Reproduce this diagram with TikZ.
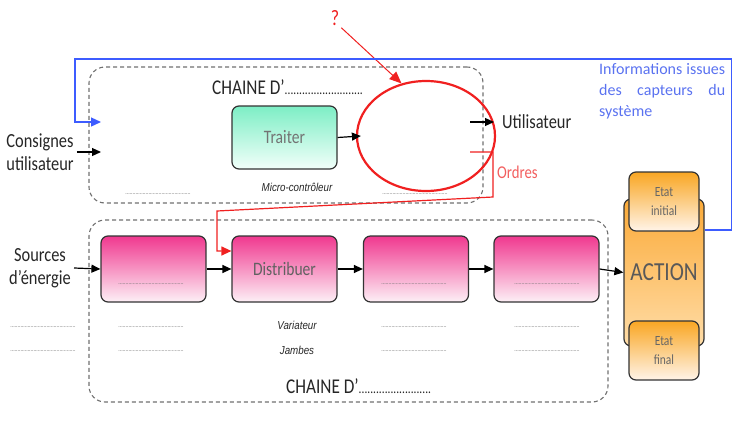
\documentclass[tikz,border=0pt]{standalone}
\usepackage{fontspec}
\setmainfont{Carlito}[FakeStretch=0.82]
\newfontfamily\itfont{Liberation Sans}[FakeStretch=0.85]
\newfontfamily\bluefont{Carlito}
\usetikzlibrary{arrows.meta,shapes.geometric,calc}
\definecolor{pinktop}{HTML}{F0388F}
\definecolor{pinkbot}{HTML}{FDF0F6}
\definecolor{minttop}{HTML}{7DEEC5}
\definecolor{mintbot}{HTML}{F2FFFA}
\definecolor{oratop}{HTML}{F9A623}
\definecolor{orabot}{HTML}{FFF4E8}
\definecolor{acttop}{HTML}{FBAA38}
\definecolor{actbot}{HTML}{FFDDA8}
\definecolor{blueline}{HTML}{3D5CFF}
\definecolor{bluetext}{HTML}{5A72F0}
\definecolor{redline}{HTML}{F02020}
\definecolor{salmon}{HTML}{F25E5E}
\definecolor{dashgray}{HTML}{707070}
\newcommand\blankdots{\textcolor{black!55}{\fontsize{7}{8}\selectfont .............................................}}
\begin{document}
\begin{tikzpicture}[x=1pt,y=-1pt,
  dashbox/.style={draw=dashgray, dash pattern=on 4pt off 3pt, line width=1.1pt, rounded corners=16pt, inner sep=0pt},
  arr/.style={-{Triangle[length=9pt,width=8pt]}, line width=1.2pt},
  boxbase/.style={draw=black!80, line width=1.2pt, rounded corners=7pt, inner sep=0pt, align=center},
  pinkbox/.style={boxbase, top color=pinktop, bottom color=pinkbot, minimum width=105pt, minimum height=66pt, text=black!62, font=\fontsize{19}{22}\selectfont},
  mintbox/.style={boxbase, top color=minttop, bottom color=mintbot, minimum width=105pt, minimum height=63pt, text=black!55, font=\fontsize{19}{22}\selectfont},
  etatbox/.style={boxbase, top color=oratop, bottom color=orabot, minimum width=70pt, minimum height=59pt, text=black!60, font=\fontsize{14}{19}\selectfont},
  lbl/.style={font=\fontsize{20}{23}\selectfont, text=black!85, align=center, inner sep=0pt},
  itl/.style={font=\itfont\itshape\fontsize{11.5}{12}\selectfont, text=black!85, inner sep=0pt},
  dotl/.style={inner sep=0pt}
]
\useasboundingbox (0,0) rectangle (748,421);

% dashed chains
\node[dashbox, minimum width=394pt, minimum height=136pt] (chinfo) at (286,135) {};
\node[dashbox, minimum width=519pt, minimum height=182pt] (chener) at (348.5,311) {};

% chain labels
\node[anchor=west, inner sep=0pt, font=\fontsize{21}{24}\selectfont, text=black!85] (tinfo) at (212,87) {CHAINE D'{\fontsize{14}{16}\selectfont ...........................}};
\node[anchor=west, inner sep=0pt, font=\fontsize{21}{24}\selectfont, text=black!85] (tener) at (286,386) {CHAINE D'{\fontsize{14}{16}\selectfont .........................}};

% boxes
\node[mintbox] (traiter) at (284.5,137.5) {Traiter};
\node[pinkbox] (p1) at (153.5,269) {};
\node[pinkbox] (dist) at (284.5,269) {Distribuer};
\node[pinkbox] (p3) at (416,269) {};
\node[pinkbox] (p4) at (546.5,269) {};
\node[boxbase, top color=acttop, bottom color=actbot, minimum width=80pt, minimum height=147pt, text=black!65, font=\fontsize{26}{28}\selectfont] (action) at (664,272.5) {ACTION};
\node[etatbox] (einit) at (664,201.5) {Etat\\initial};
\node[etatbox] (efin) at (664,350.5) {Etat\\final};

% side labels
\node[lbl] (consignes) at (40,152) {Consignes\\utilisateur};
\node[lbl] (sources) at (40,268) {Sources\\d'énergie};
\node[lbl, anchor=west] (util) at (502,122) {Utilisateur};
\node[lbl, anchor=west, text=salmon, font=\fontsize{18}{20}\selectfont] (ordres) at (497,172) {Ordres};
\node[anchor=north west, inner sep=0pt, text width=126pt, align=left, text=bluetext, font=\bluefont\fontsize{16}{21}\selectfont] (infos) at (599,63) {Informations\hfill issues\\des\hfill capteurs\hfill du\\système};

% italic labels
\node[itl] (micro) at (297,187) {Micro-contrôleur};
\node[itl] (variateur) at (297,325) {Variateur};
\node[itl] (jambes) at (297,350) {Jambes};

% dotted blanks
\node[dotl] (d1) at (158,194) {\blankdots};
\node[dotl] (d2) at (415,194) {\blankdots};
\node[dotl] (d3) at (151,284) {\blankdots};
\node[dotl] (d4) at (414,284) {\blankdots};
\node[dotl] (d5) at (547,284) {\blankdots};
\node[dotl] (d6) at (43,327) {\blankdots};
\node[dotl] (d7) at (151,327) {\blankdots};
\node[dotl] (d8) at (414,327) {\blankdots};
\node[dotl] (d9) at (547,327) {\blankdots};
\node[dotl] (d10) at (43,351) {\blankdots};
\node[dotl] (d11) at (151,351) {\blankdots};
\node[dotl] (d12) at (414,351) {\blankdots};
\node[dotl] (d13) at (547,351) {\blankdots};

% red ellipse and question mark
\node[draw=redline, line width=2.2pt, ellipse, minimum width=138pt, minimum height=110pt, inner sep=0pt] (ell) at (426,136) {};
\node[text=redline, font=\fontsize{22}{24}\selectfont, inner sep=0pt] (q) at (335,18) {?};
\draw[draw=redline, line width=1pt, -{Triangle[length=12pt,width=10pt]}] (q.south east) ++(2,2) -- (ell.115);

% coordinates for free ends
\coordinate (cin) at (101,152);
\coordinate (fbin) at (101,122);
\coordinate (uin) at (470,122);
\coordinate (oin) at (470,152);

% black connectors
\draw[arr] (consignes.east) ++(3,0) -- (cin);
\draw[arr] (sources.east) ++(3,0) -- (p1.west);
\draw[arr] (p1.east) -- (dist.west);
\draw[arr] (dist.east) -- (p3.west);
\draw[arr] (p3.east) -- (p4.west);
\draw[arr] (p4.east) -- (action.west);
\draw[arr] (traiter.east) -- ($(ell.west)+(5,0)$);
\draw[arr] (uin) -- ($(util.west)+(-8,0)$);

% blue feedback
\draw[draw=blueline, line width=1.3pt, -{Triangle[length=10pt,width=9pt]}] ($(action.east)+(0,-42.5)$) -- ++(27,0) |- (75,59) |- (fbin);

% red orders
\draw[draw=redline, line width=1.2pt, -{Triangle[length=10pt,width=9pt]}] (oin) -- (493,152) -- (493,197) -- (217,211) |- ($(dist.west)+(0,-18)$);
\end{tikzpicture}
\end{document}
